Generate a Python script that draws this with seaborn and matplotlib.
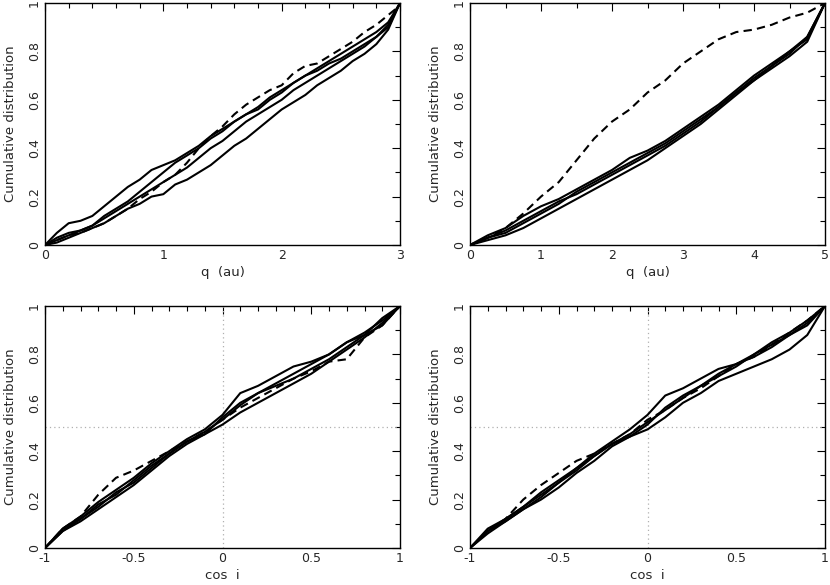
import numpy as np
import pandas as pd
import matplotlib
matplotlib.use("Agg")
import matplotlib.pyplot as plt
from matplotlib.ticker import MultipleLocator
import seaborn as sns

# --- perihelion distance, q < 3 au ---
q3 = [0.0, 0.1, 0.2, 0.3, 0.4, 0.5, 0.6, 0.7, 0.8, 0.9, 1.0, 1.1, 1.2, 1.3, 1.4, 1.5,
      1.6, 1.7, 1.8, 1.9, 2.0, 2.1, 2.2, 2.3, 2.4, 2.5, 2.6, 2.7, 2.8, 2.9, 3.0]
q3_a = [0, 0.05, 0.09, 0.10, 0.12, 0.16, 0.20, 0.24, 0.27, 0.31, 0.33, 0.35, 0.38, 0.41, 0.45, 0.48,
        0.51, 0.54, 0.57, 0.61, 0.64, 0.67, 0.70, 0.73, 0.76, 0.79, 0.82, 0.85, 0.88, 0.92, 1.0]
q3_b = [0, 0.01, 0.03, 0.05, 0.07, 0.09, 0.12, 0.15, 0.17, 0.20, 0.21, 0.25, 0.27, 0.30, 0.33, 0.37,
        0.41, 0.44, 0.48, 0.52, 0.56, 0.59, 0.62, 0.66, 0.69, 0.72, 0.76, 0.79, 0.83, 0.89, 1.0]
q3_c = [0, 0.02, 0.04, 0.06, 0.08, 0.11, 0.14, 0.17, 0.20, 0.23, 0.26, 0.29, 0.32, 0.36, 0.40, 0.43,
        0.47, 0.51, 0.54, 0.57, 0.60, 0.64, 0.67, 0.70, 0.73, 0.76, 0.79, 0.82, 0.86, 0.91, 1.0]
q3_d = [0, 0.03, 0.05, 0.06, 0.08, 0.12, 0.15, 0.18, 0.22, 0.26, 0.30, 0.34, 0.37, 0.40, 0.44, 0.47,
        0.51, 0.54, 0.56, 0.60, 0.63, 0.67, 0.70, 0.72, 0.75, 0.77, 0.80, 0.83, 0.86, 0.90, 1.0]
q3_obs = [0, 0.02, 0.04, 0.05, 0.07, 0.09, 0.12, 0.15, 0.19, 0.22, 0.26, 0.29, 0.34, 0.40, 0.45, 0.49,
          0.54, 0.58, 0.61, 0.64, 0.66, 0.71, 0.74, 0.75, 0.78, 0.81, 0.84, 0.88, 0.91, 0.95, 0.99]

# --- perihelion distance, q < 5 au ---
q5 = [0.0, 0.25, 0.5, 0.75, 1.0, 1.25, 1.5, 1.75, 2.0, 2.25, 2.5, 2.75, 3.0, 3.25, 3.5,
      3.75, 4.0, 4.25, 4.5, 4.75, 5.0]
q5_a = [0, 0.04, 0.07, 0.12, 0.16, 0.19, 0.23, 0.27, 0.31, 0.36, 0.39, 0.43, 0.48, 0.53, 0.58,
        0.64, 0.70, 0.75, 0.80, 0.86, 1.0]
q5_b = [0, 0.02, 0.04, 0.07, 0.11, 0.15, 0.19, 0.23, 0.27, 0.31, 0.35, 0.40, 0.45, 0.50, 0.56,
        0.62, 0.68, 0.74, 0.79, 0.86, 1.0]
q5_c = [0, 0.03, 0.05, 0.09, 0.13, 0.17, 0.22, 0.26, 0.30, 0.34, 0.38, 0.42, 0.47, 0.52, 0.57,
        0.63, 0.69, 0.74, 0.80, 0.85, 1.0]
q5_d = [0, 0.03, 0.06, 0.10, 0.14, 0.18, 0.21, 0.25, 0.29, 0.33, 0.37, 0.41, 0.46, 0.51, 0.57,
        0.63, 0.68, 0.73, 0.78, 0.84, 1.0]
q5_obs = [0, 0.03, 0.07, 0.13, 0.20, 0.26, 0.35, 0.44, 0.51, 0.56, 0.63, 0.68, 0.75, 0.80, 0.85,
          0.88, 0.89, 0.91, 0.94, 0.96, 1.0]

# --- cos i ---
cosi = [-1.0, -0.9, -0.8, -0.7, -0.6, -0.5, -0.4, -0.3, -0.2, -0.1, 0.0,
        0.1, 0.2, 0.3, 0.4, 0.5, 0.6, 0.7, 0.8, 0.9, 1.0]
ci3_a = [0, 0.08, 0.13, 0.19, 0.24, 0.29, 0.35, 0.40, 0.45, 0.49, 0.55, 0.64, 0.67, 0.71, 0.75, 0.77, 0.80, 0.85, 0.88, 0.92, 1.0]
ci3_b = [0, 0.07, 0.11, 0.16, 0.21, 0.26, 0.32, 0.38, 0.43, 0.47, 0.51, 0.56, 0.60, 0.64, 0.68, 0.72, 0.77, 0.82, 0.87, 0.93, 1.0]
ci3_c = [0, 0.08, 0.12, 0.17, 0.23, 0.27, 0.33, 0.39, 0.44, 0.48, 0.53, 0.59, 0.64, 0.68, 0.72, 0.76, 0.80, 0.85, 0.89, 0.94, 1.0]
ci3_d = [0, 0.07, 0.12, 0.18, 0.22, 0.28, 0.34, 0.39, 0.44, 0.47, 0.54, 0.60, 0.64, 0.67, 0.70, 0.74, 0.78, 0.83, 0.88, 0.95, 1.0]
ci3_obs = [0, 0.08, 0.13, 0.22, 0.29, 0.32, 0.36, 0.40, 0.44, 0.48, 0.53, 0.58, 0.62, 0.66, 0.70, 0.73, 0.77, 0.78, 0.87, 0.92, 1.0]

ci5_a = [0, 0.08, 0.12, 0.17, 0.23, 0.28, 0.33, 0.39, 0.44, 0.49, 0.55, 0.63, 0.66, 0.70, 0.74, 0.76, 0.79, 0.83, 0.88, 0.92, 1.0]
ci5_b = [0, 0.06, 0.11, 0.16, 0.20, 0.25, 0.31, 0.36, 0.42, 0.46, 0.49, 0.54, 0.60, 0.64, 0.69, 0.72, 0.75, 0.78, 0.82, 0.88, 1.0]
ci5_c = [0, 0.07, 0.11, 0.16, 0.21, 0.27, 0.33, 0.38, 0.43, 0.47, 0.52, 0.57, 0.62, 0.67, 0.71, 0.75, 0.80, 0.84, 0.88, 0.93, 1.0]
ci5_d = [0, 0.07, 0.12, 0.17, 0.22, 0.27, 0.32, 0.38, 0.43, 0.46, 0.51, 0.58, 0.63, 0.67, 0.72, 0.76, 0.80, 0.85, 0.89, 0.94, 1.0]
ci5_obs = [0, 0.07, 0.12, 0.20, 0.26, 0.31, 0.36, 0.39, 0.43, 0.47, 0.53, 0.57, 0.62, 0.66, 0.71, 0.76, 0.79, 0.84, 0.89, 0.94, 1.0]

sns.set_style("white")
plt.rcParams["font.family"] = ["DejaVu Sans"]
plt.rcParams["font.size"] = 9

fig = plt.figure(figsize=(8.3, 5.85), dpi=100)

# axes boxes in figure fractions
boxes = [
    [45 / 830, 1 - 245 / 585, 355 / 830, 242 / 585],
    [470 / 830, 1 - 245 / 585, 355 / 830, 242 / 585],
    [45 / 830, 1 - 548 / 585, 355 / 830, 242 / 585],
    [470 / 830, 1 - 548 / 585, 355 / 830, 242 / 585],
]

panels = [
    (q3, [q3_a, q3_b, q3_c, q3_d], q3_obs, (0, 3), 1, 0.2, "q  (au)", False),
    (q5, [q5_a, q5_b, q5_c, q5_d], q5_obs, (0, 5), 1, 0.5, "q  (au)", False),
    (cosi, [ci3_a, ci3_b, ci3_c, ci3_d], ci3_obs, (-1, 1), 0.5, 0.1, "cos  i", True),
    (cosi, [ci5_a, ci5_b, ci5_c, ci5_d], ci5_obs, (-1, 1), 0.5, 0.1, "cos  i", True),
]

fmt = plt.FuncFormatter(lambda v, p: "%g" % v if abs(v) > 1e-9 else "0")

for box, (xs, models, obs, xlim, xmaj, xmin, xlabel, guides) in zip(boxes, panels):
    ax = fig.add_axes(box)
    if guides:
        ax.axvline(0, color="#b0b0b0", lw=0.9, ls=(0, (1, 2.5)), zorder=1)
        ax.axhline(0.5, color="#b0b0b0", lw=0.9, ls=(0, (1, 2.5)), zorder=1)
    for ys in models:
        sns.lineplot(x=xs, y=ys, ax=ax, color="black", lw=1.5, estimator=None, sort=False)
    sns.lineplot(x=xs, y=obs, ax=ax, color="black", lw=1.5, estimator=None, sort=False,
                 dashes=False, linestyle=(0, (4, 2.5)))
    ax.set_xlim(*xlim)
    ax.set_ylim(0, 1)
    ax.xaxis.set_major_locator(MultipleLocator(xmaj))
    ax.xaxis.set_minor_locator(MultipleLocator(xmin))
    ax.yaxis.set_major_locator(MultipleLocator(0.2))
    ax.yaxis.set_minor_locator(MultipleLocator(0.1))
    ax.xaxis.set_major_formatter(fmt)
    ax.yaxis.set_major_formatter(fmt)
    ax.tick_params(which="both", direction="in", top=True, right=True, color="black", width=0.8)
    ax.tick_params(which="major", length=6, labelsize=9, pad=3)
    ax.tick_params(which="minor", length=3.5)
    for lab in ax.get_yticklabels():
        lab.set_rotation(90)
        lab.set_va("center")
    for sp in ax.spines.values():
        sp.set_color("black")
        sp.set_linewidth(1.0)
    ax.set_xlabel(xlabel, fontsize=9.5, labelpad=3)
    ax.set_ylabel("Cumulative distribution", fontsize=9.5, labelpad=8)

fig.savefig("out.png", dpi=100)
